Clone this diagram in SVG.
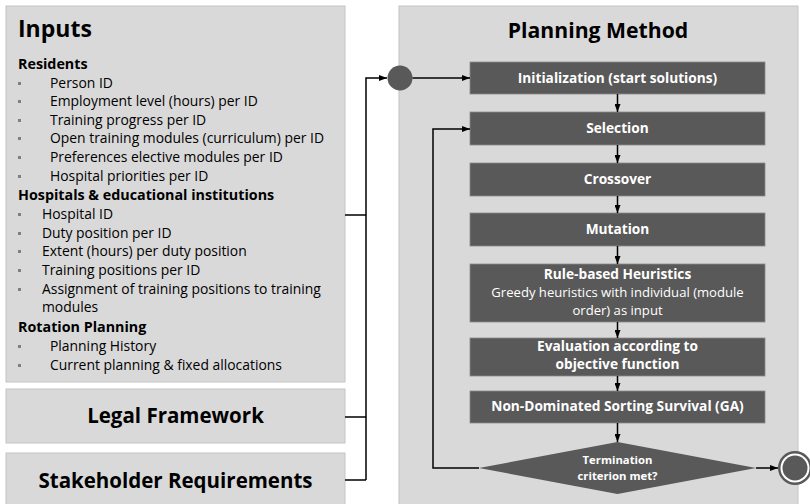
<svg xmlns="http://www.w3.org/2000/svg" width="810" height="504" viewBox="0 0 810 504">
<defs>
<style>
.panel{fill:#d9d9d9;stroke:#c4c4c4;stroke-width:1}
.box{fill:#595959;stroke:#8a8a8a;stroke-width:0.8}
.t{font-family:"Open Sans","Liberation Sans",sans-serif;fill:#000}
.h1{font-size:23px;font-weight:700}
.h2{font-size:14.3px;font-weight:700}
.li{font-size:13.9px}
.big{font-size:20.5px;font-weight:700}
.w{font-family:"Open Sans","Liberation Sans",sans-serif;fill:#fff;text-anchor:middle}
.wb{font-size:13.7px;font-weight:700}
.wn{font-size:13.1px}
.bul{fill:#808080}
.c{fill:none;stroke:#000;stroke-width:1.5}
</style>
<marker id="ah" viewBox="0 0 8 6" refX="8" refY="3" markerWidth="8" markerHeight="6" markerUnits="userSpaceOnUse" orient="auto">
<path d="M0,0 L8,3 L0,6 z" fill="#000"/>
</marker>
</defs>

<g id="inputs">
<rect class="panel" x="6" y="6" width="339" height="376"/>
<text class="t h1" x="18" y="37">Inputs</text>
<text class="t h2" x="18" y="69">Residents</text>
<rect class="bul" x="18" y="82" width="3" height="3"/>
<text class="t li" x="50" y="88">Person ID</text>
<rect class="bul" x="18" y="100" width="3" height="3"/>
<text class="t li" x="50" y="106">Employment level (hours) per ID</text>
<rect class="bul" x="18" y="119" width="3" height="3"/>
<text class="t li" x="50" y="125">Training progress per ID</text>
<rect class="bul" x="18" y="137" width="3" height="3"/>
<text class="t li" x="50" y="143">Open training modules (curriculum) per ID</text>
<rect class="bul" x="18" y="156" width="3" height="3"/>
<text class="t li" x="50" y="162">Preferences elective modules per ID</text>
<rect class="bul" x="18" y="175" width="3" height="3"/>
<text class="t li" x="50" y="181">Hospital priorities per ID</text>
<text class="t h2" x="18" y="200">Hospitals &amp; educational institutions</text>
<rect class="bul" x="18" y="213" width="3" height="3"/>
<text class="t li" x="42" y="219">Hospital ID</text>
<rect class="bul" x="18" y="232" width="3" height="3"/>
<text class="t li" x="42" y="238">Duty position per ID</text>
<rect class="bul" x="18" y="250" width="3" height="3"/>
<text class="t li" x="42" y="256">Extent (hours) per duty position</text>
<rect class="bul" x="18" y="269" width="3" height="3"/>
<text class="t li" x="42" y="275">Training positions per ID</text>
<rect class="bul" x="18" y="288" width="3" height="3"/>
<text class="t li" x="42" y="294">Assignment of training positions to training</text>
<text class="t li" x="42" y="312">modules</text>
<text class="t h2" x="18" y="332">Rotation Planning</text>
<rect class="bul" x="18" y="345" width="3" height="3"/>
<text class="t li" x="50" y="351">Planning History</text>
<rect class="bul" x="18" y="364" width="3" height="3"/>
<text class="t li" x="50" y="370">Current planning &amp; fixed allocations</text>
</g>

<g id="legal">
<rect class="panel" x="6" y="389" width="339" height="54"/>
<text class="t big" x="175.5" y="423" text-anchor="middle">Legal Framework</text>
</g>

<g id="stakeholder">
<rect class="panel" x="6" y="453" width="339" height="60"/>
<text class="t big" x="175.5" y="488" text-anchor="middle">Stakeholder Requirements</text>
</g>

<g id="planning">
<rect class="panel" x="399" y="6" width="399" height="508"/>
<text class="t h1" x="598" y="38" text-anchor="middle" style="font-size:21.2px">Planning Method</text>
</g>

<g id="start">
<circle cx="400" cy="78" r="12.5" fill="#595959"/>
</g>

<g id="init">
<rect class="box" x="470" y="62" width="295" height="32"/>
<text class="w wb" x="617.5" y="83">Initialization (start solutions)</text>
</g>
<g id="selection">
<rect class="box" x="470" y="112" width="295" height="33"/>
<text class="w wb" x="617.5" y="133">Selection</text>
</g>
<g id="crossover">
<rect class="box" x="470" y="163" width="295" height="33"/>
<text class="w wb" x="617.5" y="184">Crossover</text>
</g>
<g id="mutation">
<rect class="box" x="470" y="213" width="295" height="33"/>
<text class="w wb" x="617.5" y="234">Mutation</text>
</g>
<g id="heuristics">
<rect class="box" x="470" y="264" width="295" height="58"/>
<text class="w wb" x="617.5" y="279">Rule-based Heuristics</text>
<text class="w wn" x="617.5" y="297">Greedy heuristics with individual (module</text>
<text class="w wn" x="617.5" y="315">order) as input</text>
</g>
<g id="evaluation">
<rect class="box" x="470" y="338" width="295" height="38"/>
<text class="w wb" x="617.5" y="351">Evaluation according to</text>
<text class="w wb" x="617.5" y="369">objective function</text>
</g>
<g id="survival">
<rect class="box" x="470" y="391" width="295" height="32"/>
<text class="w wb" x="617.5" y="411">Non-Dominated Sorting Survival (GA)</text>
</g>
<g id="termination">
<polygon points="617.5,442 756,468 617.5,494 479,468" fill="#595959"/>
<text class="w wb" x="617.5" y="464" style="font-size:11.3px">Termination</text>
<text class="w wb" x="617.5" y="480" style="font-size:11.3px">criterion met?</text>
</g>
<g id="end">
<circle cx="795" cy="468" r="17" fill="#595959"/>
<circle cx="795" cy="468" r="14.5" fill="#fff"/>
<circle cx="795" cy="468" r="12.5" fill="#595959"/>
</g>

<g id="connectors">
<path class="c" d="M345,215 H366 M345,417 H366 M345,480 H366 M366,480 V78 H387" marker-end="url(#ah)"/>
<path class="c" d="M412.5,78 H470" marker-end="url(#ah)"/>
<path class="c" d="M617.5,94 V112" marker-end="url(#ah)"/>
<path class="c" d="M617.5,145 V163" marker-end="url(#ah)"/>
<path class="c" d="M617.5,196 V213" marker-end="url(#ah)"/>
<path class="c" d="M617.5,246 V264" marker-end="url(#ah)"/>
<path class="c" d="M617.5,322 V338" marker-end="url(#ah)"/>
<path class="c" d="M617.5,376 V391" marker-end="url(#ah)"/>
<path class="c" d="M617.5,423 V442" marker-end="url(#ah)"/>
<path class="c" d="M479,468 H433 V129 H470" marker-end="url(#ah)"/>
<path class="c" d="M756,468 H778" marker-end="url(#ah)"/>
</g>
</svg>
